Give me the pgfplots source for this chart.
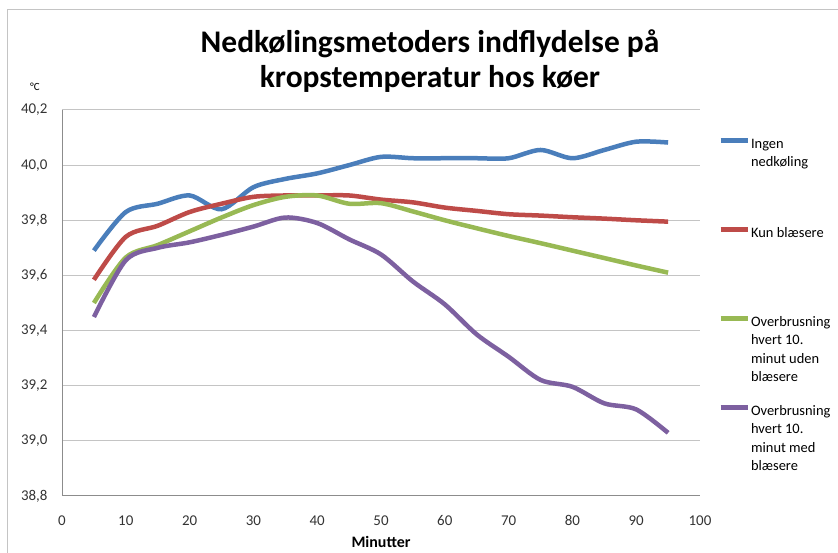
\documentclass[border=0pt]{standalone}
\usepackage{fontspec}
\setmainfont{Carlito}
\usepackage{pgfplots}
\pgfplotsset{compat=1.18}
\definecolor{cblue}{HTML}{4A7EBB}
\definecolor{cred}{HTML}{BE4B48}
\definecolor{cgreen}{HTML}{98B954}
\definecolor{cpurple}{HTML}{7D60A0}
\definecolor{gridgray}{HTML}{C4C4C4}
\definecolor{axgray}{HTML}{8C8C8C}
\begin{document}
\begin{tikzpicture}[x=1bp,y=1bp]
\useasboundingbox (0,0) rectangle (838,553);
\draw[gridgray, line width=1bp] (7,0) -- (7,543) -- (838,543);
\node[font=\bfseries\fontsize{31.6}{35}\selectfont, anchor=base] at (430,500) {Nedkølingsmetoders indflydelse på};
\node[font=\bfseries\fontsize{31.6}{35}\selectfont, anchor=base] at (430,465) {kropstemperatur hos køer};
\node[font=\fontsize{11}{13}\selectfont] at (35,466) {°C};
\begin{axis}[
  at={(62bp,57bp)}, anchor=south west, scale only axis,
  width=638bp, height=386bp,
  xmin=0, xmax=100, ymin=38.8, ymax=40.2,
  xtick={0,10,...,100},
  ytick={38.8,39,39.2,39.4,39.6,39.8,40,40.2},
  axis x line*=bottom, axis y line*=left,
  axis line style={-, draw=axgray, line width=1bp},
  major tick length=0pt,
  ymajorgrids, grid style={gridgray, line width=1bp},
  /pgf/number format/.cd, use comma, fixed, fixed zerofill, precision=1, assume math mode=true,
  /pgfplots/.cd,
  xticklabel={\pgfmathprintnumber[fixed,precision=0,fixed zerofill=false]{\tick}},
  tick label style={font=\fontsize{15}{17}\selectfont, text=black!80},
  xticklabel style={yshift=-16bp},
  yticklabel style={xshift=-11bp},
  xlabel={\bfseries Minutter},
  xlabel style={font=\fontsize{16}{18}\selectfont, yshift=-4bp},
  legend style={at={(1.028,0.93)}, anchor=north west, draw=none, fill=none,
    inner sep=0pt, font=\fontsize{14.5}{18.5}\selectfont, row sep=77bp,
    nodes={inner sep=1bp, text height=10bp, text depth=0pt}},
  legend cell align=left,
  legend image code/.code={\draw[#1, line width=5bp] (0bp,0.3em) -- (27bp,0.3em);},
  every axis plot/.append style={line width=4.5bp, smooth, tension=0.5},
]
\addplot[cblue] coordinates {
(5,39.69) (10,39.83) (15,39.86) (20,39.89) (25,39.84) (30,39.92) (35,39.95) (40,39.97) (45,40.00) (50,40.03)
(55,40.025) (60,40.025) (65,40.025) (70,40.025) (75,40.055) (80,40.025) (85,40.055) (90,40.085) (95,40.082)};
\addlegendentry{\parbox[t]{85bp}{\raggedright Ingen\\nedkøling}}
\addplot[cred] coordinates {
(5,39.584) (10,39.74) (15,39.78) (20,39.83) (25,39.86) (30,39.885) (35,39.89) (40,39.89) (45,39.89) (50,39.875)
(55,39.865) (60,39.846) (65,39.834) (70,39.822) (75,39.817) (80,39.811) (85,39.806) (90,39.80) (95,39.795)};
\addlegendentry{\parbox[t]{85bp}{\raggedright Kun blæsere}}
\addplot[cgreen] coordinates {
(5,39.50) (10,39.665) (15,39.71) (20,39.76) (25,39.81) (30,39.855) (35,39.885) (40,39.89) (45,39.86) (50,39.862)
(55,39.832) (60,39.80) (65,39.771) (70,39.743) (75,39.717) (80,39.69) (85,39.663) (90,39.636) (95,39.61)};
\addlegendentry{\parbox[t]{85bp}{\raggedright Overbrusning\\hvert 10.\\minut uden\\blæsere}}
\addplot[cpurple] coordinates {
(5,39.449) (10,39.655) (15,39.70) (20,39.72) (25,39.747) (30,39.777) (35,39.81) (40,39.79) (45,39.731) (50,39.676)
(55,39.578) (60,39.495) (65,39.386) (70,39.305) (75,39.221) (80,39.196) (85,39.136) (90,39.114) (95,39.029)};
\addlegendentry{\parbox[t]{85bp}{\raggedright Overbrusning\\hvert 10.\\minut med\\blæsere}}
\end{axis}
\end{tikzpicture}
\end{document}
